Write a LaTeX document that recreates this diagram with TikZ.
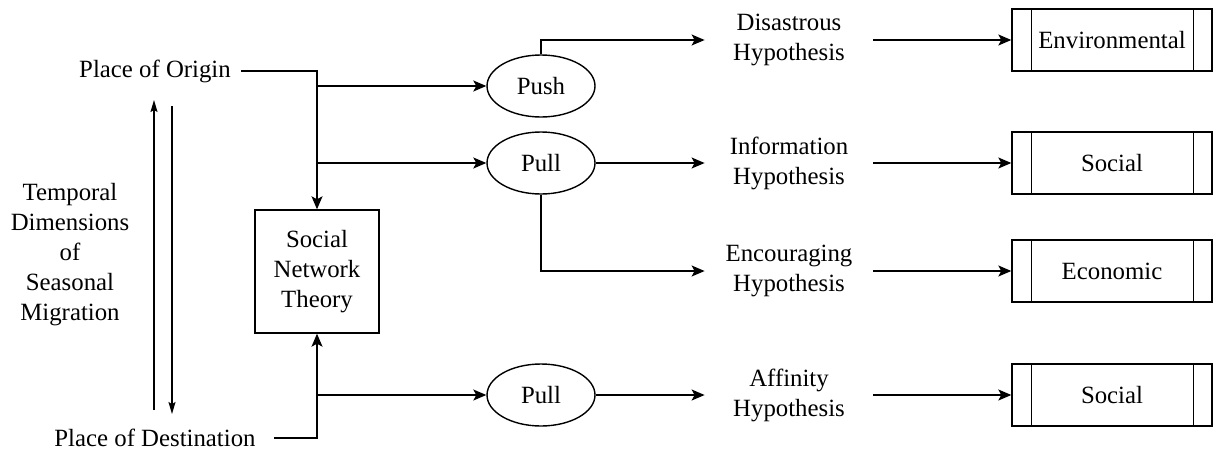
\documentclass[tikz,border=0pt]{standalone}
\usepackage{fontspec}
\setmainfont{Liberation Serif}
\usetikzlibrary{arrows.meta,shapes.geometric}
\begin{document}
\begin{tikzpicture}[x=0.5pt,y=-0.5pt,
  every node/.style={font=\fontsize{12.4}{15}\selectfont, inner sep=2pt},
  line/.style={line width=0.7pt},
  arr/.style={line width=0.7pt,-{Stealth[length=6.5pt,width=5.5pt,inset=1.5pt]}},
  thinarr/.style={line width=0.7pt,-{Stealth[length=6pt,width=3.5pt,inset=1pt]}},
  oval/.style={draw,line width=0.7pt,ellipse,minimum width=54pt,minimum height=31pt,inner sep=0pt},
  hyp/.style={align=center,minimum width=84pt,inner sep=0pt},
  cat/.style={draw,line width=0.7pt,minimum width=100pt,minimum height=31pt,inner sep=0pt},
  sntbox/.style={draw,line width=0.7pt,minimum width=62pt,minimum height=61.5pt,align=center,inner sep=0pt}
]
\useasboundingbox (0,0) rectangle (1214,450);
% left texts
\node[inner sep=5pt] (origin) at (155,71) {Place of Origin};
\node[inner sep=9pt] (dest) at (155,438) {Place of Destination};
\node[align=center] (temporal) at (70,255) {Temporal\\Dimensions\\of\\Seasonal\\Migration};
\coordinate (upS) at (154,410);
\coordinate (upE) at (154,100);
\coordinate (dnS) at (172,106);
\coordinate (dnE) at (172,414);
\draw[thinarr] (upS) -- (upE);
\draw[thinarr] (dnS) -- (dnE);
% social network theory
\node[sntbox] (snt) at (317,271.5) {Social\\Network\\Theory};
% ovals
\node[oval] (push) at (541,86) {Push};
\node[oval] (pull1) at (541,163) {Pull};
\node[oval] (pull2) at (541,395) {Pull};
% hypotheses
\node[hyp] (h1) at (789,40) {Disastrous\\Hypothesis};
\node[hyp] (h2) at (789,163) {Information\\Hypothesis};
\node[hyp] (h3) at (789,271) {Encouraging\\Hypothesis};
\node[hyp] (h4) at (789,395) {Affinity\\Hypothesis};
% categories
\node[cat] (c1) at (1112,40) {Environmental};
\node[cat] (c2) at (1112,163) {Social};
\node[cat] (c3) at (1112,271) {Economic};
\node[cat] (c4) at (1112,395) {Social};
\foreach \c in {c1,c2,c3,c4}{
  \draw[line] ([xshift=10pt]\c.north west) -- ([xshift=10pt]\c.south west);
  \draw[line] ([xshift=-9.5pt]\c.north east) -- ([xshift=-9.5pt]\c.south east);
}
% connectors
\draw[arr] (origin.east) -| (snt.north);
\draw[arr] (dest.east) -| (snt.south);
\coordinate (j1) at (snt.north |- push);
\coordinate (j2) at (snt.north |- pull1);
\coordinate (j3) at (snt.south |- pull2);
\draw[arr] (j1) -- (push.west);
\draw[arr] (j2) -- (pull1.west);
\draw[arr] (j3) -- (pull2.west);
\draw[arr] (push.north) |- (h1.west);
\draw[arr] (pull1.east) -- (h2.west);
\draw[arr] (pull1.south) |- (h3.west);
\draw[arr] (pull2.east) -- (h4.west);
\draw[arr] (h1.east) -- (c1.west);
\draw[arr] (h2.east) -- (c2.west);
\draw[arr] (h3.east) -- (c3.west);
\draw[arr] (h4.east) -- (c4.west);
\end{tikzpicture}
\end{document}
